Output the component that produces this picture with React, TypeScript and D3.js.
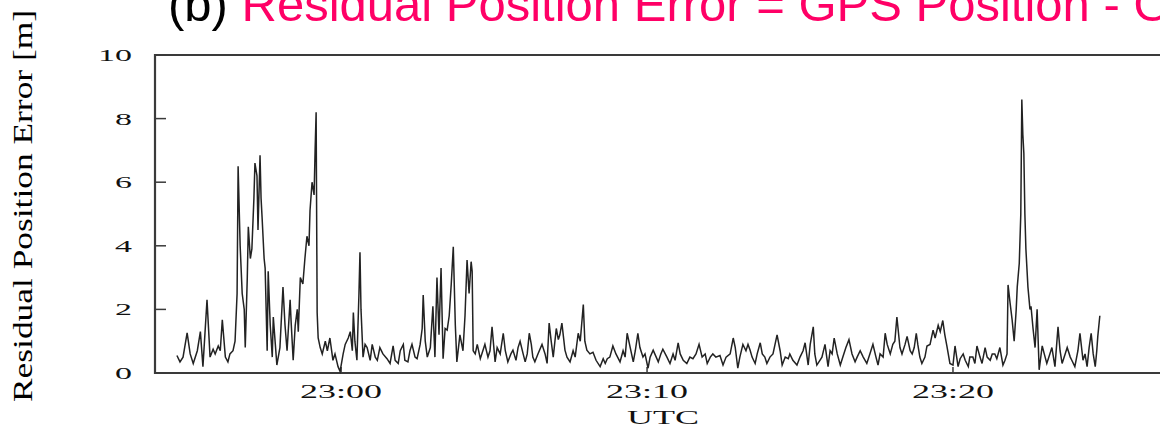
import * as d3 from "d3";

// seconds relative to 23:00:00 UTC
const tSec = [
  -322, -316, -310, -302, -296, -290, -282, -276, -271, -263, -257, -251, -247, -241, -237, -233, -227,
  -222, -218, -212, -208, -204, -202, -198, -194, -190, -188, -184, -182, -178,
  -175, -171, -169, -165, -163, -159, -157, -155, -151, -149, -145, -143, -139, -135, -133, -129,
  -126, -120, -114, -110, -106, -100, -98, -94, -90, -86, -84, -80,
  -75, -71, -67, -63, -61, -57, -53, -51, -49, -47, -45, -41, -37, -31, -27,
  -22, -16, -12, -6, -2, 4, 8, 14, 18, 22, 24,
  27, 31, 35, 37, 39, 43, 47, 51, 57, 61, 67, 71,
  76, 82, 90, 96, 102, 106, 112, 116, 122,
  125, 131, 135, 139, 145, 149, 155, 159, 161, 165, 169, 175,
  180, 184, 188, 192, 196, 200, 204, 208, 212, 216, 220, 224,
  227, 233, 239, 243, 247, 251, 255, 257, 259, 263, 267, 273,
  278, 282, 288, 292, 296, 302, 306, 312, 318, 322,
  327, 333, 337, 343, 347, 351, 357, 361, 365, 369, 373,
  376, 380, 386, 394, 400, 404, 408, 412, 416, 422, 426,
  429, 433, 439, 443, 449, 455, 459, 465, 469, 475,
  478, 482, 488, 494, 500, 508, 514, 518, 522,
  527, 533, 539, 547, 553, 557, 561, 567, 573, 577,
  582, 586, 592, 596, 602, 606, 612, 618, 622,
  627, 631, 639, 645, 651, 655, 661, 665, 671,
  678, 684, 690, 696, 702, 708, 714, 718, 724,
  729, 735, 743, 749, 755, 763, 769, 773,
  778, 782, 788, 794, 798, 802, 806, 812, 816, 822, 826,
  831, 835, 841, 847, 855, 861, 865, 871, 877,
  880, 886, 894, 900, 906, 910, 916, 920, 926,
  929, 933, 939, 943, 949, 955, 959, 963, 967, 973, 979,
  984, 990, 996, 1002, 1008, 1012, 1018, 1024,
  1031, 1037, 1043, 1049, 1053, 1057, 1063, 1067, 1071, 1077,
  1082, 1086, 1090, 1096, 1100, 1106, 1110, 1116, 1120, 1124, 1128,
  1131, 1135, 1139, 1145, 1149, 1155, 1161, 1165, 1171, 1175,
  1180, 1184, 1188, 1194, 1200, 1204, 1210, 1214, 1220, 1224, 1230,
  1233, 1239, 1243, 1247, 1253, 1257, 1263, 1267, 1273, 1277,
  1282, 1286, 1292, 1298, 1302, 1306, 1308, 1312, 1316, 1320, 1324, 1326, 1330,
  1333, 1335, 1337, 1339, 1341, 1343, 1347, 1351, 1353, 1357, 1361, 1365, 1369, 1375, 1379,
  1384, 1390, 1394, 1400, 1406, 1410, 1414, 1420, 1424, 1430,
  1433, 1439, 1445, 1449, 1455, 1459, 1463, 1467, 1471, 1475, 1479,
  1482, 1484, 1488,
];

// residual position error [m]
const errM = [
  0.55, 0.35, 0.5, 1.26, 0.6, 0.3, 0.7, 1.3, 0.2, 2.3, 0.5, 0.75, 0.6, 0.85, 0.7, 1.67, 0.5,
  0.35, 0.6, 0.7, 1.0, 2.5, 6.5, 4.0, 2.5, 2.0, 0.8, 3.0, 4.6, 3.6,
  3.9, 5.5, 6.6, 6.2, 4.5, 6.85, 5.5, 4.9, 3.6, 3.3, 0.7, 3.2, 1.5, 0.5, 1.76, 0.9,
  0.25, 0.8, 2.7, 1.5, 0.7, 2.3, 1.6, 0.4, 1.5, 2.0, 1.3, 3.0,
  2.8, 3.6, 4.3, 4.0, 5.1, 6.0, 5.6, 7.0, 8.2, 1.9, 1.1, 0.8, 0.6, 1.0, 0.7,
  1.1, 0.4, 0.6, 0.2, 0.05, 0.6, 0.9, 1.1, 1.3, 0.7, 1.9,
  1.0, 0.4, 2.5, 3.8, 2.0, 0.5, 0.9, 0.8, 0.4, 0.9, 0.5, 0.4,
  0.8, 0.6, 0.45, 0.3, 0.85, 0.4, 0.3, 0.7, 0.9,
  0.4, 0.35, 0.7, 0.9, 0.5, 0.45, 0.9, 1.4, 2.45, 1.0, 0.5, 0.8,
  2.1, 0.5, 3.0, 1.2, 3.3, 0.45, 1.4, 1.35, 1.8, 2.8, 3.97, 1.5,
  0.35, 1.2, 0.7, 1.8, 3.55, 2.5, 3.5, 3.2, 0.7, 0.6, 0.9, 0.45,
  0.7, 0.9, 0.5, 0.7, 1.45, 0.35, 0.8, 0.6, 1.25, 0.7,
  0.35, 0.6, 0.72, 0.4, 0.8, 1.0, 0.6, 0.35, 0.6, 1.25, 0.9,
  0.5, 0.35, 0.6, 0.9, 0.6, 0.3, 1.57, 1.0, 0.5, 1.4, 1.05,
  1.2, 1.57, 0.72, 0.5, 0.35, 0.7, 0.5, 1.25, 1.0, 2.15,
  1.0, 0.72, 0.6, 0.65, 0.4, 0.2, 0.45, 0.3, 0.45,
  0.5, 0.85, 0.6, 0.35, 0.7, 0.5, 1.25, 0.8, 0.35, 0.7,
  1.25, 0.8, 0.5, 0.6, 0.15, 0.5, 0.72, 0.5, 0.35,
  0.6, 0.75, 0.5, 0.3, 0.6, 0.4, 0.95, 0.6, 0.4,
  0.3, 0.5, 0.45, 0.6, 0.9, 0.5, 0.6, 0.3, 0.5,
  0.6, 0.5, 0.55, 0.25, 0.5, 0.6, 1.1, 0.8,
  0.15, 0.5, 0.9, 0.7, 0.9, 0.72, 0.5, 0.3, 0.6, 0.95, 0.6,
  0.5, 0.3, 0.5, 0.6, 1.2, 0.7, 0.25, 0.5, 0.45,
  0.6, 0.4, 0.25, 0.5, 0.7, 0.95, 0.25, 0.9, 1.45,
  0.6, 0.25, 0.4, 0.5, 0.9, 0.2, 0.7, 0.6, 1.1, 0.6, 0.25,
  0.5, 0.8, 1.05, 0.6, 0.35, 0.5, 0.7, 0.5,
  0.3, 0.6, 0.9, 0.5, 0.25, 0.6, 0.5, 1.25, 0.9, 0.6,
  0.9, 1.0, 1.76, 0.8, 0.6, 0.9, 1.15, 0.7, 0.6, 0.8, 1.25,
  0.9, 0.5, 0.3, 0.5, 0.85, 0.9, 1.35, 1.1, 1.5, 1.3,
  1.65, 1.2, 0.85, 0.3, 0.25, 0.85, 0.2, 0.45, 0.6, 0.4, 0.2,
  0.5, 0.5, 0.3, 0.85, 0.5, 0.3, 0.8, 0.5, 0.4, 0.6,
  0.6, 0.45, 0.8, 0.25, 0.4, 0.6, 2.77, 2.2, 1.67, 1.0, 2.0, 2.7, 3.45,
  5.0, 8.6, 7.5, 6.9, 5.0, 3.9, 2.7, 2.0, 2.1, 1.4, 0.8, 2.0, 0.1, 0.85, 0.6,
  0.3, 0.6, 0.8, 0.2, 1.45, 0.7, 0.3, 0.6, 0.8, 0.5,
  0.4, 0.2, 0.7, 1.25, 0.4, 0.6, 0.2, 0.8, 1.25, 0.6, 0.2,
  0.7, 1.15, 1.8,
];

const yTicks = [0, 2, 4, 6, 8, 10];
const xTickSec = [0, 600, 1200];
const xTickLabels = ["23:00", "23:10", "23:20"];

const base = new Date(2000, 0, 1, 23, 0, 0).getTime();
const toDate = (s: number) => new Date(base + s * 1000);

export default function App() {
  const W = 1160;
  const H = 428;
  const left = 155;
  const top = 55;
  const bottom = 373;

  const x = d3.scaleTime()
    .domain([toDate(-365), toDate(1606)])
    .range([left, W]);
  const y = d3.scaleLinear().domain([0, 10]).range([bottom, top]);

  const pts = tSec.map((t, i) => [toDate(t), errM[i]] as [Date, number]);
  const line = d3.line<[Date, number]>()
    .x(d => x(d[0]))
    .y(d => y(d[1]));

  const serif = "'Liberation Serif', 'Times New Roman', serif";
  const axisCol = "#3a3a3a";

  return (
    <svg width={W} height={H} style={{ position: "absolute", left: 0, top: 0, background: "#fff" }}>
      {/* slide title, cut off at the top and right like the original */}
      <text x={168} y={21} fontFamily="'Liberation Sans', Arial, sans-serif" fontSize={49} fill="#000">
        (b) <tspan fill="#ff0066">Residual Position Error = GPS Position - O</tspan>
      </text>

      {/* y label */}
      <text transform="translate(32,206) rotate(-90)" textAnchor="middle" fontFamily={serif}
        fontSize={28} textLength={392} lengthAdjust="spacingAndGlyphs" fill="#000">
        Residual Position Error [m]
      </text>

      {/* frame */}
      <line x1={left} x2={left} y1={top - 1} y2={bottom + 1} stroke={axisCol} strokeWidth={2.2} />
      <line x1={left} x2={W} y1={bottom} y2={bottom} stroke={axisCol} strokeWidth={2.2} />
      <line x1={left} x2={W} y1={top} y2={top} stroke={axisCol} strokeWidth={2.2} />

      {yTicks.map(v => (
        <g key={v}>
          <line x1={left} x2={left + 11} y1={y(v)} y2={y(v)} stroke={axisCol} strokeWidth={1.5} />
          <text transform={`translate(132,${y(v) + 6}) scale(2,1)`} textAnchor="end"
            fontFamily={serif} fontSize={17} fill="#111">{v}</text>
        </g>
      ))}

      {xTickSec.map((s, i) => (
        <g key={s}>
          <line x1={x(toDate(s))} x2={x(toDate(s))} y1={bottom} y2={bottom - 6} stroke={axisCol} strokeWidth={1.5} />
          <text transform={`translate(${x(toDate(s))},398) scale(2,1)`} textAnchor="middle"
            fontFamily={serif} fontSize={18} fill="#111">{xTickLabels[i]}</text>
        </g>
      ))}

      <text transform="translate(663,424) scale(1.9,1)" textAnchor="middle" fontFamily={serif}
        fontSize={19} fill="#111">UTC</text>

      <path d={line(pts) ?? ""} fill="none" stroke="#222" strokeWidth={1.5} strokeLinejoin="miter" />
    </svg>
  );
}
